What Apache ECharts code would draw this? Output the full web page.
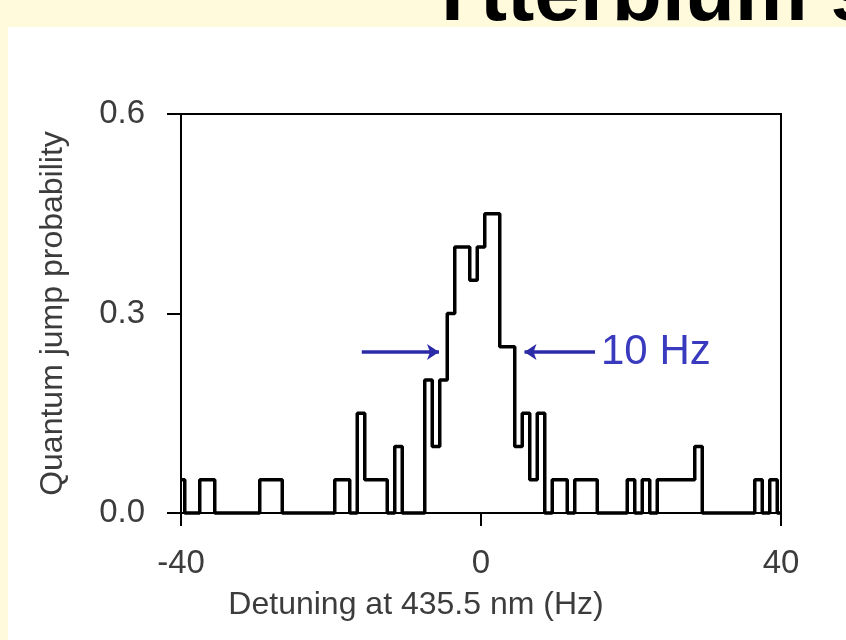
<!DOCTYPE html>
<html>
<head>
<meta charset="utf-8">
<script src="https://cdn.jsdelivr.net/npm/echarts@6/dist/echarts.min.js"></script>
<style>
html,body{margin:0;padding:0;background:#fffadc;}
#chart{width:846px;height:640px;}
</style>
</head>
<body>
<div id="chart"></div>
<script>
// Detuning (Hz), one bin per Hz
const detuning = [-40,-39,-38,-37,-36,-35,-34,-33,-32,-31,-30,-29,-28,-27,-26,-25,-24,-23,-22,-21,
  -20,-19,-18,-17,-16,-15,-14,-13,-12,-11,-10,-9,-8,-7,-6,-5,-4,-3,-2,-1,
  0,1,2,3,4,5,6,7,8,9,10,11,12,13,14,15,16,17,18,19,
  20,21,22,23,24,25,26,27,28,29,30,31,32,33,34,35,36,37,38,39,40];
// Quantum jump probability per bin
const probability = [0.05,0,0,0.05,0.05,0,0,0,0,0,0,0.05,0.05,0.05,0,0,0,0,0,0,
  0,0.05,0.05,0,0.15,0.05,0.05,0.05,0,0.1,0,0,0,0.2,0.1,0.2,0.3,0.4,0.4,0.35,
  0.4,0.45,0.45,0.25,0.25,0.1,0.15,0.05,0.15,0,0.05,0.05,0,0.05,0.05,0.05,0,0,0,0,
  0.05,0,0.05,0,0.05,0.05,0.05,0.05,0.05,0.1,0,0,0,0,0,0,0,0.05,0,0.05,0];
const xTicks = [-40, 0, 40];
const yTicks = [0.0, 0.3, 0.6];
const xTitle = 'Detuning at 435.5 nm (Hz)';
const yTitle = 'Quantum jump probability';
const annotationText = '10 Hz';
// FWHM arrows: [fromHz, toHz], level
const arrowLeft = [-15.9, -5.6];
const arrowRight = [15.2, 5.8];
const arrowLevel = 0.242;
const slideTitle = 'Ytterbium standard';

const chart = echarts.init(document.getElementById('chart'), null, {renderer:'canvas'});
const FONT = '"Liberation Sans", Arial, Helvetica, sans-serif';
const seriesData = detuning.map((d, i) => [d, probability[i]]);
const arrowColor = '#2b2ba8';

chart.setOption({
  backgroundColor: '#fffadc',
  animation: false,
  graphic: [
    {type:'text', z:-20, left:425, top:-44, style:{text:slideTitle, font:'bold 82px ' + FONT, fill:'#000'}},
    {type:'rect', z:-10, shape:{x:8, y:27, width:838, height:613}, style:{fill:'#ffffff'}}
  ],
  grid: {left:181, right:65, top:114, bottom:127, show:true, borderColor:'#000', borderWidth:2, backgroundColor:'transparent'},
  xAxis: {
    type:'value', min:-40, max:40, interval:40,
    name: xTitle, nameLocation:'middle', nameGap:76,
    nameTextStyle:{fontFamily:FONT, fontSize:32, color:'#3c3c3c', padding:[0,130,0,0]},
    axisLine:{show:true, onZero:false, lineStyle:{color:'#000', width:2}},
    axisTick:{show:true, inside:false, length:13, lineStyle:{color:'#000', width:2}},
    axisLabel:{fontFamily:FONT, fontSize:33, color:'#3c3c3c', margin:34,
      formatter: v => xTicks.includes(v) ? String(v) : ''},
    splitLine:{show:false}
  },
  yAxis: {
    type:'value', min:0, max:0.6, interval:0.3,
    name: yTitle, nameLocation:'middle', nameGap:112,
    nameTextStyle:{fontFamily:FONT, fontSize:32, color:'#3c3c3c'},
    axisLine:{show:true, onZero:false, lineStyle:{color:'#000', width:2}},
    axisTick:{show:true, inside:false, length:14, lineStyle:{color:'#000', width:2}},
    axisLabel:{fontFamily:FONT, fontSize:33, color:'#3c3c3c', margin:36,
      formatter: v => yTicks.some(t => Math.abs(t - v) < 1e-9) ? v.toFixed(1) : ''},
    splitLine:{show:false}
  },
  series: [
    {
      type:'line', step:'middle', data: seriesData,
      symbol:'none', clip:false,
      lineStyle:{color:'#000', width:3.5},
      markLine: {
        silent:true, symbol:['none','arrow'], symbolSize:[12,12],
        lineStyle:{color:arrowColor, width:3.5, type:'solid'},
        data: [
          [{coord:[arrowLeft[0], arrowLevel]}, {coord:[arrowLeft[1], arrowLevel]}],
          [{coord:[arrowRight[0], arrowLevel], label:{show:true, position:'start', formatter:annotationText,
             fontFamily:FONT, fontSize:42, color:'#3a3abf', distance:6}},
           {coord:[arrowRight[1], arrowLevel]}]
        ],
        label:{show:false}
      }
    }
  ]
});
</script>
</body>
</html>
